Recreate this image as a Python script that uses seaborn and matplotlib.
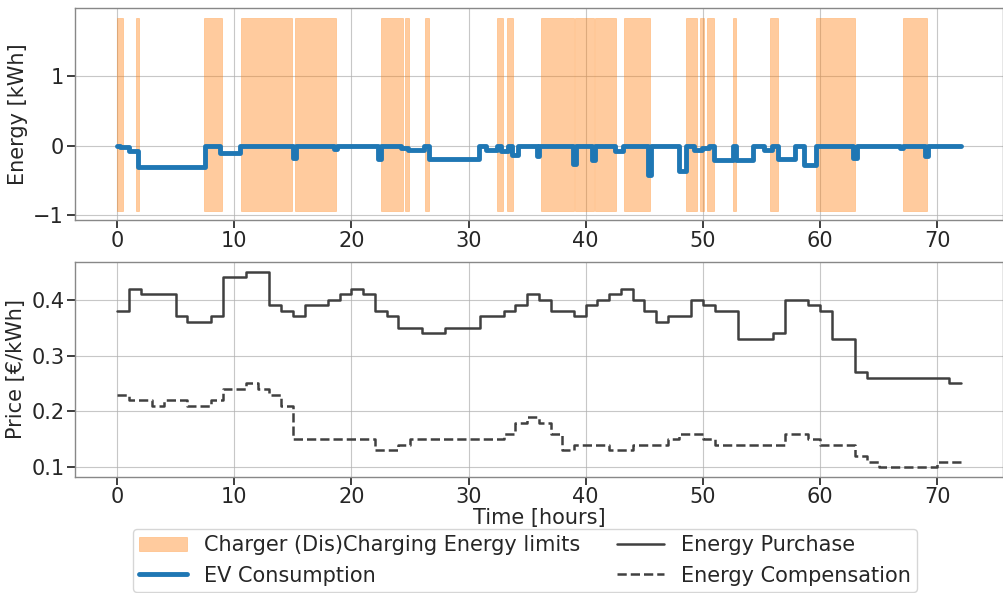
import numpy as np
import pandas as pd
import matplotlib
matplotlib.use("Agg")
import matplotlib.pyplot as plt
import seaborn as sns

# ---------------- data ----------------
hours = list(range(73))  # 0..72 (last point repeats final value for step end)

energy_purchase = [0.38, 0.42, 0.41, 0.41, 0.41, 0.37, 0.36, 0.36, 0.37, 0.44,
                   0.44, 0.45, 0.45, 0.39, 0.38, 0.37, 0.39, 0.39, 0.40, 0.41,
                   0.42, 0.41, 0.38, 0.37, 0.35, 0.35, 0.34, 0.34, 0.35, 0.35,
                   0.35, 0.37, 0.37, 0.38, 0.39, 0.41, 0.40, 0.38, 0.38, 0.37,
                   0.39, 0.40, 0.41, 0.42, 0.40, 0.38, 0.36, 0.37, 0.37, 0.40,
                   0.39, 0.38, 0.38, 0.33, 0.33, 0.33, 0.34, 0.40, 0.40, 0.39,
                   0.38, 0.33, 0.33, 0.27, 0.26, 0.26, 0.26, 0.26, 0.26, 0.26,
                   0.26, 0.25, 0.25]

energy_compensation = [0.23, 0.22, 0.22, 0.21, 0.22, 0.22, 0.21, 0.21, 0.22, 0.24,
                       0.24, 0.25, 0.24, 0.23, 0.21, 0.15, 0.15, 0.15, 0.15, 0.15,
                       0.15, 0.15, 0.13, 0.13, 0.14, 0.15, 0.15, 0.15, 0.15, 0.15,
                       0.15, 0.15, 0.15, 0.16, 0.18, 0.19, 0.18, 0.16, 0.13, 0.14,
                       0.14, 0.14, 0.13, 0.13, 0.14, 0.14, 0.14, 0.15, 0.16, 0.16,
                       0.15, 0.14, 0.14, 0.14, 0.14, 0.14, 0.14, 0.16, 0.16, 0.15,
                       0.14, 0.14, 0.14, 0.12, 0.11, 0.10, 0.10, 0.10, 0.10, 0.10,
                       0.11, 0.11, 0.11]

ev_times = [0, 0.25, 1.0, 1.75, 7.5, 8.75, 10.5, 15.0, 15.25, 18.5, 18.75,
            22.25, 22.5, 24.25, 24.85, 26.2, 26.6, 30.9, 31.5, 32.4, 32.8,
            33.4, 33.7, 34.25, 35.8, 36.05, 38.9, 39.15, 40.55, 40.8, 42.5,
            43.2, 45.35, 45.6, 48.0, 48.55, 49.25, 49.9, 50.5, 50.95, 52.6,
            52.8, 54.3, 55.2, 55.9, 56.4, 57.9, 58.6, 59.65, 62.85, 63.15,
            66.85, 67.1, 68.95, 69.25, 72.0]
ev_values = [0.0, -0.02, -0.08, -0.30, 0.0, -0.10, 0.0, -0.18, 0.0, -0.05, 0.0,
             -0.19, 0.0, -0.03, -0.06, 0.0, -0.19, 0.0, -0.06, 0.0, -0.07,
             0.0, -0.13, 0.0, -0.14, 0.0, -0.26, 0.0, -0.21, 0.0, -0.07,
             0.0, -0.42, 0.0, -0.36, 0.0, -0.06, -0.03, 0.0, -0.20, 0.0,
             -0.20, 0.0, -0.06, 0.0, -0.19, 0.0, -0.27, 0.0, -0.18, 0.0,
             -0.03, 0.0, -0.14, 0.0, 0.0]

span_start = [0.0, 1.6, 7.4, 10.55, 15.15, 22.55, 24.6, 26.25, 32.4, 33.25,
              36.15, 39.05, 40.8, 43.25, 48.55, 49.75, 50.35, 52.55, 55.75,
              59.65, 67.05]
span_end = [0.5, 1.85, 8.95, 14.95, 18.65, 24.4, 24.9, 26.65, 32.95, 33.8,
            39.0, 40.7, 42.6, 45.45, 49.5, 50.1, 50.95, 52.8, 56.45,
            62.95, 69.1]
limit_upper = 1.84
limit_lower = -0.93

# ---------------- plot ----------------
sns.set_theme(style="ticks")
plt.rcParams["font.family"] = ["DejaVu Sans"]
FS = 15

fig = plt.figure(figsize=(10.04, 5.93), dpi=100)
ax1 = fig.add_axes([0.0747, 0.629, 0.924, 0.3575])
ax2 = fig.add_axes([0.0747, 0.1956, 0.924, 0.3626])

# top panel
for i, (s, e) in enumerate(zip(span_start, span_end)):
    ax1.fill_between([s, e], [limit_lower, limit_lower], [limit_upper, limit_upper],
                     color="#ff7f0e", alpha=0.4, linewidth=0.5,
                     label="Charger (Dis)Charging Energy limits" if i == 0 else None)

ev_df = pd.DataFrame({"t": ev_times, "e": ev_values})
sns.lineplot(data=ev_df, x="t", y="e", drawstyle="steps-post", color="#1f77b4",
             linewidth=3.5, estimator=None, ax=ax1, label="EV Consumption",
             solid_capstyle="round", solid_joinstyle="round")

ax1.set_xlim(-3.6, 75.6)
ax1.set_ylim(-1.065, 1.98)
ax1.set_yticks([-1, 0, 1])
ax1.set_xticks(range(0, 71, 10))
ax1.set_ylabel("Energy [kWh]", fontsize=FS)
ax1.set_xlabel("")
ax1.grid(True, color="#b0b0b0", linewidth=0.8, alpha=0.7)
ax1.tick_params(labelsize=FS, pad=2)

# bottom panel
price_df = pd.DataFrame({"t": hours, "purchase": energy_purchase,
                         "compensation": energy_compensation})
sns.lineplot(data=price_df, x="t", y="purchase", drawstyle="steps-post",
             color="#404040", linewidth=1.8, estimator=None, ax=ax2,
             label="Energy Purchase")
sns.lineplot(data=price_df, x="t", y="compensation", drawstyle="steps-post",
             color="#404040", linewidth=1.8, linestyle="--", estimator=None, ax=ax2,
             label="Energy Compensation")
ax2.set_xlim(-3.6, 75.6)
ax2.set_ylim(0.0825, 0.4675)
ax2.set_yticks([0.1, 0.2, 0.3, 0.4])
ax2.set_xticks(range(0, 71, 10))
ax2.set_ylabel("Price [€/kWh]", fontsize=FS)
ax2.set_xlabel("Time [hours]", fontsize=FS, labelpad=0.5)
ax2.grid(True, color="#b0b0b0", linewidth=0.8, alpha=0.7)
ax2.tick_params(labelsize=FS, pad=1.5)

for ax in (ax1, ax2):
    for sp in ax.spines.values():
        sp.set_color("#888888")
        sp.set_linewidth(1.0)

h1, l1 = ax1.get_legend_handles_labels()
h2, l2 = ax2.get_legend_handles_labels()
ax1.get_legend().remove()
ax2.get_legend().remove()
fig.legend(h1 + h2, l1 + l2, loc="upper center", bbox_to_anchor=(0.523, 0.108),
           borderaxespad=0.0,
           ncol=2, fontsize=FS, frameon=True, columnspacing=1.75,
           handlelength=2.3, borderpad=0.3, labelspacing=0.5)

fig.savefig("out.png", dpi=100)
